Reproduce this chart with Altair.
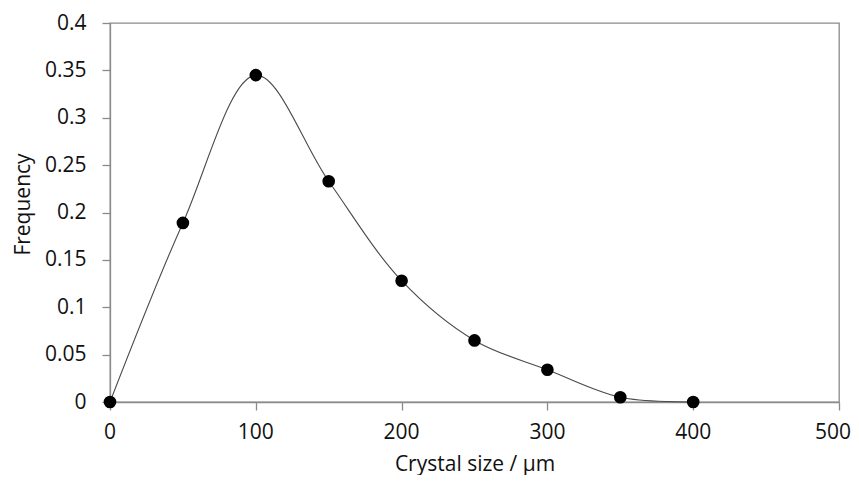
import altair as alt
import pandas as pd

crystal_size = [0, 50, 100, 150, 200, 250, 300, 350, 400]
frequency = [0.0, 0.189, 0.345, 0.233, 0.128, 0.065, 0.034, 0.005, 0.0]

x_ticks = [0, 100, 200, 300, 400, 500]
y_ticks = [0, 0.05, 0.1, 0.15, 0.2, 0.25, 0.3, 0.35, 0.4]

df = pd.DataFrame({"size": crystal_size, "freq": frequency})
ticks_df = pd.DataFrame({"tick": x_ticks, "label": [str(v) for v in x_ticks]})

FONT = "Open Sans"

x_scale = alt.Scale(domain=[0, 500], nice=False, zero=False)
y_scale = alt.Scale(domain=[0, 0.4], nice=False)

x_enc = alt.X(
    "size:Q",
    scale=x_scale,
    axis=alt.Axis(
        values=x_ticks,
        labels=False,
        title="Crystal size / µm",
        titleX=364.5,
        titleY=68,
        titleAlign="center",
        titleBaseline="alphabetic",
    ),
)
y_enc = alt.Y(
    "freq:Q",
    scale=y_scale,
    axis=alt.Axis(
        values=y_ticks,
        format=".2~f",
        title="Frequency",
        titleX=-81,
        titleY=181,
        titleAngle=-90,
        titleAlign="center",
        titleBaseline="alphabetic",
        labelPadding=16,
        labelFlush=False,
        labelOverlap=False,
    ),
)

line = alt.Chart(df).mark_line(
    interpolate="catmull-rom", color="#4a4a4a", strokeWidth=1.1
).encode(x=x_enc, y=y_enc)

points = alt.Chart(df).mark_circle(size=160, color="black", opacity=1).encode(
    x=x_enc, y=y_enc
)

label_style = dict(
    font=FONT, fontSize=21, color="#111", align="center", baseline="top", dy=20
)

x_labels = (
    alt.Chart(ticks_df)
    .transform_filter("datum.tick < 500")
    .mark_text(**label_style)
    .encode(x=alt.X("tick:Q", scale=x_scale), y=alt.datum(0, scale=y_scale), text="label:N")
)
x_label_last = (
    alt.Chart(ticks_df)
    .transform_filter("datum.tick == 500")
    .mark_text(dx=-6, **label_style)
    .encode(x=alt.X("tick:Q", scale=x_scale), y=alt.datum(0, scale=y_scale), text="label:N")
)

chart = (
    alt.layer(line, points, x_labels, x_label_last)
    .properties(
        width=729,
        height=379,
        autosize=alt.AutoSizeParams(type="none"),
        padding={"left": 102, "top": 15, "right": 12, "bottom": 73},
        background="white",
    )
    .configure_view(stroke="#8a8a8a", strokeWidth=1.3)
    .configure_axis(
        grid=False,
        domainColor="#8a8a8a",
        domainWidth=1.3,
        tickColor="#8a8a8a",
        tickWidth=1.3,
        tickSize=8,
        labelFont=FONT,
        labelFontSize=21,
        labelColor="#111",
        titleFont=FONT,
        titleFontSize=21,
        titleFontWeight="normal",
        titleColor="#111",
    )
)

chart.save("out.html", embed_options={"renderer": "svg", "actions": False})
